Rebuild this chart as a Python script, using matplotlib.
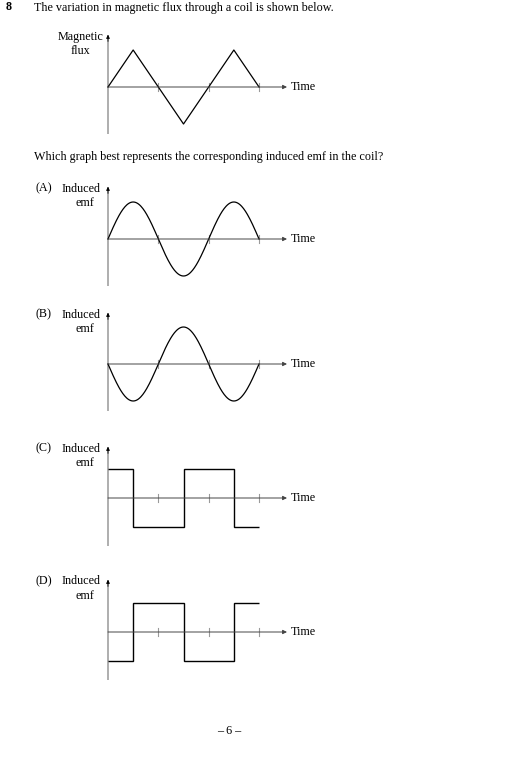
import matplotlib

matplotlib.use("Agg")
import matplotlib.pyplot as plt
import numpy as np

W, H = 530, 774

# data (time in quarter periods, values in units of the sine amplitude)
flux_t = [0, 1, 2, 3, 4, 5, 6]
flux = [0, 1, 0, -1, 0, 1, 0]
emf_a_t = [0, 1, 2, 3, 4, 5, 6]
emf_a = [0, 1, 0, -1, 0, 1, 0]
emf_b_t = [0, 1, 2, 3, 4, 5, 6]
emf_b = [0, -1, 0, 1, 0, -1, 0]
emf_c_edges = [0, 1, 3, 5, 6]
emf_c = [0.78, -0.78, 0.78, -0.78]
emf_d_edges = [0, 1, 3, 5, 6]
emf_d = [-0.78, 0.78, -0.78, 0.78]
tick_t = [2, 4, 6]

X0 = 108.0      # px of t = 0
XS = 25.17      # px per time unit
YS = 37.0       # px per value unit
FONT = ["Liberation Serif", "DejaVu Serif"]
FS = 8.7


def ftext(x, y, s, **kw):
    kw.setdefault("fontsize", FS)
    kw.setdefault("va", "center")
    fig.text(x / W, 1 - y / H, s, family=FONT, **kw)


def smooth(tk, yk, n=40):
    # sine-shaped quarter waves between the read key points
    xs, ys = [], []
    for i in range(len(tk) - 1):
        s = np.linspace(0, 1, n)
        if yk[i] == 0:
            seg = yk[i + 1] * np.sin(np.pi / 2 * s)
        else:
            seg = yk[i] * np.cos(np.pi / 2 * s)
        xs.append(tk[i] + (tk[i + 1] - tk[i]) * s)
        ys.append(seg)
    return np.concatenate(xs), np.concatenate(ys)


def panel(zero_px, top_px, bottom_px):
    left_px, right_px = 98, 292
    ax = fig.add_axes([left_px / W, 1 - bottom_px / H,
                       (right_px - left_px) / W, (bottom_px - top_px) / H])
    ax.set_xlim((left_px - X0) / XS, (right_px - X0) / XS)
    ax.set_ylim((zero_px - bottom_px) / YS, (zero_px - top_px) / YS)
    ax.axis("off")
    ylo, yhi = ax.get_ylim()
    ax.plot([0, 0], [ylo, yhi - 0.05], color="#a8a8a8", lw=1.3, zorder=1)
    ax.annotate("", xy=(0, yhi - 0.02), xytext=(0, yhi - 0.2),
                arrowprops=dict(arrowstyle="-|>", color="black", lw=0.6,
                                mutation_scale=5, shrinkA=0, shrinkB=0))
    tip = (287 - X0) / XS
    ax.annotate("", xy=(tip, 0), xytext=(0, 0),
                arrowprops=dict(arrowstyle="-|>", color="#444444", lw=0.7,
                                mutation_scale=6, shrinkA=0, shrinkB=0))
    tick_h = 4.0 / YS
    for t in tick_t:
        ax.plot([t, t], [-tick_h, tick_h], color="#9a9a9a", lw=0.8, zorder=1)
    ftext(291, zero_px, "Time")
    return ax


fig = plt.figure(figsize=(W / 100, H / 100), dpi=100)

ftext(6, 7.5, "8", fontweight="bold")
ftext(33.5, 7.5, "The variation in magnetic flux through a coil is shown below.")

ax = panel(87, 34, 134)
ax.plot(flux_t, flux, color="black", lw=0.9)
ftext(80.7, 37, "Magnetic", ha="center")
ftext(80.7, 51, "flux", ha="center")

ftext(33.5, 157, "Which graph best represents the corresponding induced emf in the coil?")

panels = [
    ("(A)", 239, 186, 286),
    ("(B)", 364, 312, 411),
    ("(C)", 498, 446, 546),
    ("(D)", 632, 579, 680),
]
axes = {}
for letter, zero_px, top_px, bottom_px in panels:
    axes[letter] = panel(zero_px, top_px, bottom_px)
    ftext(36, top_px + 2.5, letter)
    ftext(61.7, top_px + 2.5, "Induced")
    ftext(76, top_px + 17, "emf")

x, y = smooth(emf_a_t, emf_a)
axes["(A)"].plot(x, y, color="black", lw=0.9)
x, y = smooth(emf_b_t, emf_b)
axes["(B)"].plot(x, y, color="black", lw=0.9)
axes["(C)"].stairs(emf_c, emf_c_edges, baseline=None, color="black", lw=1.0)
axes["(D)"].stairs(emf_d, emf_d_edges, baseline=None, color="black", lw=1.0)

ftext(229, 731, "\u2013 6 \u2013", ha="center")

fig.savefig("out.png", dpi=100)
